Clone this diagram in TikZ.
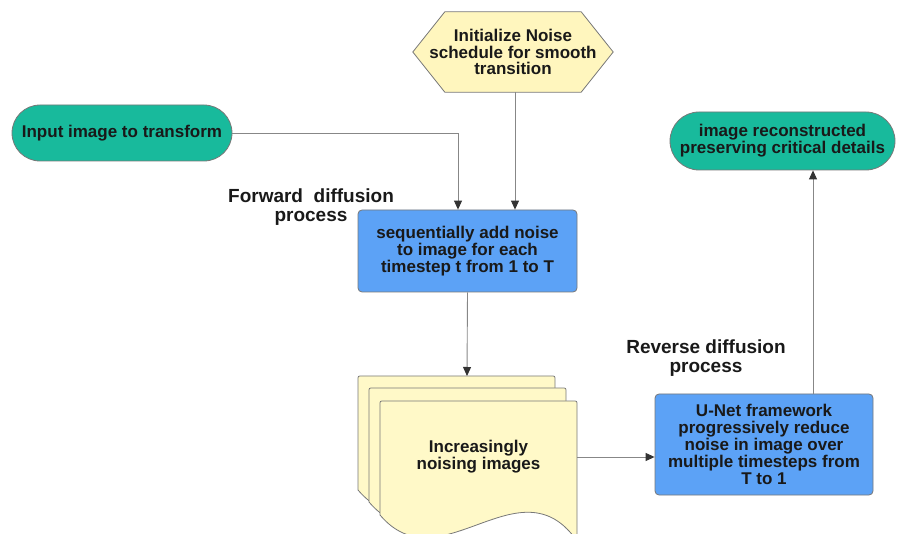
\documentclass[tikz,border=0pt]{standalone}
\usepackage{fontspec}
\setmainfont{Liberation Sans}
\usetikzlibrary{arrows.meta,shapes.misc,backgrounds}

\definecolor{pillfill}{RGB}{24,186,156}
\definecolor{boxfill}{RGB}{92,162,246}
\definecolor{pagefill}{RGB}{255,249,200}
\definecolor{hexfill}{RGB}{255,246,190}
\definecolor{edgegray}{RGB}{120,120,120}
\definecolor{linegray}{RGB}{135,135,135}
\definecolor{textdark}{RGB}{25,25,25}

\tikzset{
  boxtext/.style={font=\bfseries\fontsize{17}{16.8}\selectfont, text=textdark, align=center},
  pill/.style={boxtext, rounded rectangle, draw=edgegray, line width=0.8pt, fill=pillfill, inner sep=0pt},
  stepbox/.style={boxtext, rectangle, rounded corners=4pt, draw=edgegray, line width=0.8pt, fill=boxfill, inner sep=0pt},
  hexshape/.style={draw=edgegray, line width=0.8pt, fill=hexfill},
  pageshape/.style={draw=edgegray, line width=0.8pt, fill=pagefill},
  lbl/.style={font=\bfseries\fontsize{19}{19}\selectfont, text=textdark, align=center},
  flow/.style={draw=linegray, line width=0.9pt, -{Triangle[length=9pt,width=8pt,color=black!80]}},
  docpage/.pic={
    \path[pageshape] (0,114) -- (0,4) .. controls (0,0) .. (4,0) -- (193,0)
      .. controls (197,0) .. (197,4) -- (197,140)
      .. controls (140,58) and (60,185) .. (0,114) -- cycle;
  }
}

\begin{document}
\begin{tikzpicture}[x=1pt,y=-1pt]
  \useasboundingbox (0,0) rectangle (897,534);

  % start and end terminals
  \node[pill, minimum width=220pt, minimum height=56pt] (inp) at (122,133) {Input image to transform};
  \node[pill, minimum width=225pt, minimum height=58pt] (outp) at (782.5,141)
    {image reconstructed\\preserving critical details};

  % noise schedule (hexagon)
  \node[boxtext, minimum width=200pt, minimum height=80pt, inner sep=0pt] (hex) at (513,52)
    {Initialize Noise\\schedule for smooth\\transition};
  \begin{scope}[on background layer]
    \path[hexshape] (hex.west) -- ([xshift=32pt]hex.north west) -- ([xshift=-32pt]hex.north east)
      -- (hex.east) -- ([xshift=-32pt]hex.south east) -- ([xshift=32pt]hex.south west) -- cycle;
  \end{scope}

  % process steps
  \node[stepbox, minimum width=219pt, minimum height=82pt] (box1) at (467.5,251)
    {sequentially add noise\\to image for each\\timestep t from 1 to T};
  \node[stepbox, minimum width=218pt, minimum height=101pt] (box2) at (764,444.5)
    {U-Net framework\\progressively reduce\\noise in image over\\multiple timesteps from\\T to 1};

  % stack of noisy images
  \begin{scope}
    \clip (0,0) rectangle (897,534);
    \pic at (358,376) {docpage};
    \pic at (369,388) {docpage};
    \pic at (380,401) {docpage};
  \end{scope}
  \node[boxtext, minimum width=197pt, minimum height=110pt, inner sep=0pt] (docs) at (478.5,457)
    {Increasingly\\noising images};
  \coordinate (docstop) at (467,376);

  % stage labels
  \node[lbl] (fwd) at (311,207) {Forward\ \ diffusion\\process};
  \node[lbl] (rev) at (706,358) {Reverse diffusion\\process};

  % connectors
  \draw[flow] (inp.east) -| ([xshift=-9.5pt]box1.north);
  \draw[flow] (hex.south -| 515,0) -- ([xshift=47.5pt]box1.north);
  \draw[flow] (box1.south) -- (docstop);
  \draw[flow] (docs.east) -- (docs.east -| box2.west);
  \draw[flow] ([xshift=49pt]box2.north) -- ([xshift=49pt]box2.north |- outp.south);
\end{tikzpicture}
\end{document}
